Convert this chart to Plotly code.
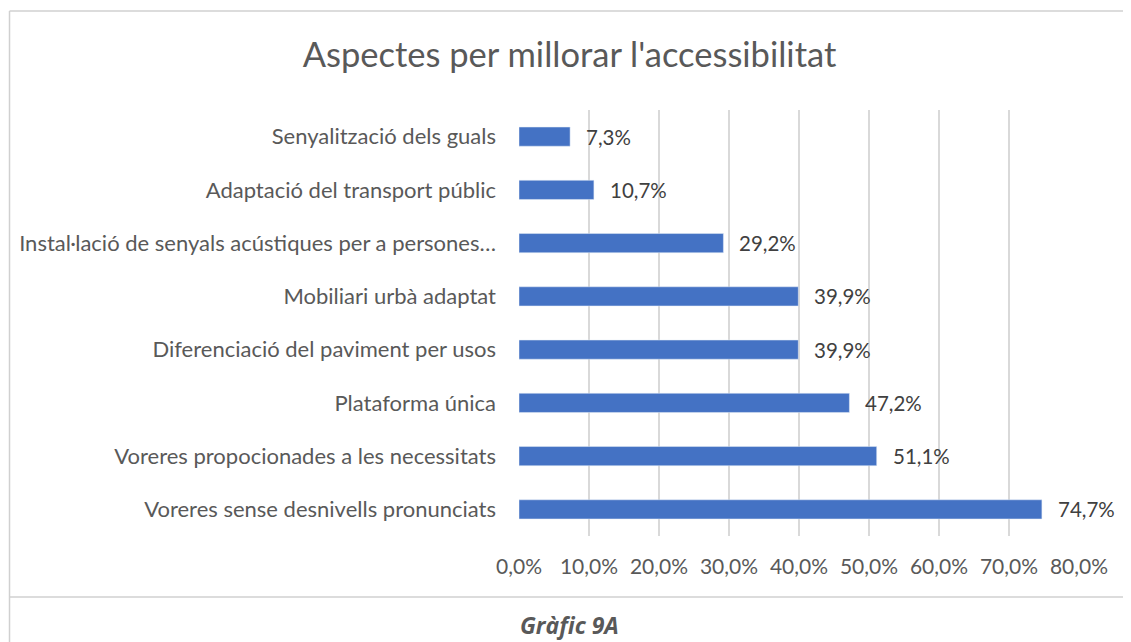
import plotly.graph_objects as go

# categories listed from bottom to top
categories = [
    "Voreres sense desnivells pronunciats",
    "Voreres propocionades a les necessitats",
    "Plataforma única",
    "Diferenciació del paviment per usos",
    "Mobiliari urbà adaptat",
    "Instal·lació de senyals acústiques per a persones…",
    "Adaptació del transport públic",
    "Senyalització dels guals",
]
values = [74.7, 51.1, 47.2, 39.9, 39.9, 29.2, 10.7, 7.3]
x_ticks = [0, 10, 20, 30, 40, 50, 60, 70, 80]


def pct(v):
    return f"{v:.1f}".replace(".", ",") + "%"


FONT = "Lato"
GREY = "#595959"

fig = go.Figure()
fig.add_trace(go.Bar(
    x=values,
    y=categories,
    orientation="h",
    marker=dict(color="#4472C4"),
    hoverinfo="x+y",
))

# data labels next to each bar
for cat, v in zip(categories, values):
    fig.add_annotation(
        x=v, y=cat, text=pct(v),
        showarrow=False, xanchor="left", xshift=14,
        font=dict(family=FONT, size=20.5, color="#404040"),
    )

# frame of the chart / caption cell
frame = dict(type="line", xref="paper", yref="paper", line=dict(color="#D0D0D0", width=1.5))
fig.add_shape(**frame, x0=-0.9098, x1=1.2, y0=1.2324, y1=1.2324)
fig.add_shape(**frame, x0=-0.9098, x1=-0.9098, y0=1.2324, y1=-0.3)
fig.add_shape(**frame, x0=-0.9098, x1=1.2, y0=-0.1432, y1=-0.1432)

fig.add_annotation(
    xref="paper", yref="paper", x=0.091, y=-0.2089, text="<b><i>Gràfic 9A</i></b>",
    showarrow=False, xanchor="center", yanchor="middle",
    font=dict(family="Open Sans", size=23, color=GREY),
)

# page body has an 8px margin, so the figure is drawn 8px smaller
fig.update_layout(
    width=1123, height=634,
    margin=dict(l=511, r=52, t=102, b=106),
    paper_bgcolor="white", plot_bgcolor="white",
    bargap=0.64,
    showlegend=False,
    title=dict(
        text="Aspectes per millorar l'accessibilitat",
        x=0.5, xanchor="center", y=1 - 47 / 634, yanchor="middle",
        font=dict(family=FONT, size=34.5, color=GREY),
    ),
    xaxis=dict(
        range=[0, 80], tickvals=x_ticks, ticktext=[pct(t) for t in x_ticks],
        showgrid=True, gridcolor="#D9D9D9", gridwidth=1.5, zeroline=False,
        showline=False, ticks="", ticklabelstandoff=16,
        tickfont=dict(family=FONT, size=21, color=GREY),
        fixedrange=True,
    ),
    yaxis=dict(
        categoryorder="array", categoryarray=categories,
        showgrid=False, zeroline=False, showline=False, ticks="",
        ticklabelstandoff=22,
        tickfont=dict(family=FONT, size=22, color=GREY),
        fixedrange=True,
    ),
)

fig.write_html("out.html")
